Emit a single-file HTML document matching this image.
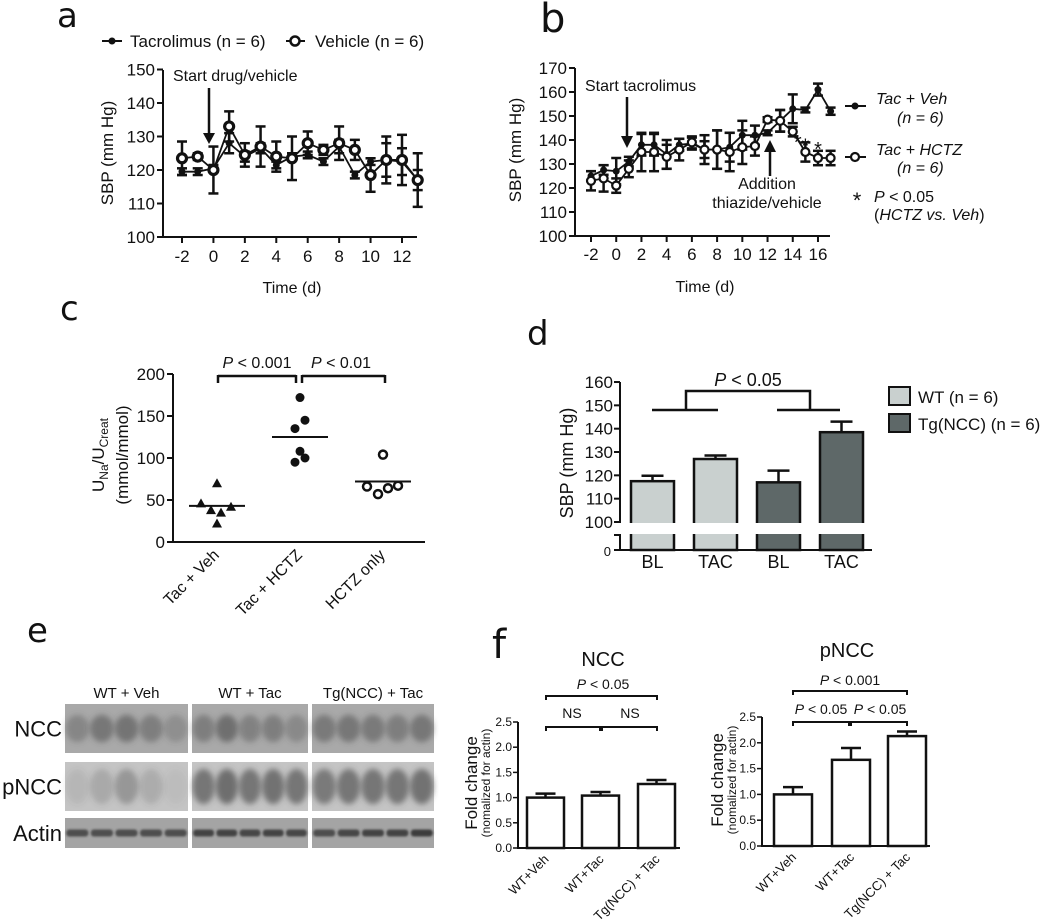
<!DOCTYPE html>
<html><head><meta charset="utf-8"><style>
html,body{margin:0;padding:0;background:#fff;}
svg{display:block;font-family:"Liberation Sans",Arial,sans-serif;}
</style></head><body>
<svg id="fig" width="1050" height="924" viewBox="0 0 1050 924" xmlns="http://www.w3.org/2000/svg">
<defs><filter id="blur" x="-20%" y="-40%" width="140%" height="180%"><feGaussianBlur stdDeviation="3"/></filter>
<filter id="blur2" x="-20%" y="-100%" width="140%" height="300%"><feGaussianBlur stdDeviation="1"/></filter></defs>
</svg>
<script>
// ---- Panel a data ----
const aDays = [-2,-1,0,1,2,3,4,5,6,7,8,9,10,11,12,13];
const aTac = [119.5,119.5,120.5,128,124,126.5,121.5,124,124.5,122.5,127,118.5,122.5,123,122.5,117];
const aTacErr = [1,1,1,3,1.5,1.5,1,1,1,1,2,1,1,5,4,3];
const aVeh = [123.5,124,120,133,124.5,127,124,123.5,128,126,128,126,118.5,123,123,117];
const aVehErr = [5,1,7,4.5,3.5,6,4.5,6.5,3.5,1.5,5,3,5,7,7.5,8];
const aYTicks = [100,110,120,130,140,150];
const aXTicks = [-2,0,2,4,6,8,10,12];
// ---- Panel b data ----
const bDays = [-2,-1,0,1,2,3,4,5,6,7,8,9,10,11,12,13,14,15,16,17];
const bVeh = [125,127.5,127,131,138,138,134,138,138.5,136,136,137,142,142,143,148,153,152.5,161,152];
const bVehErr = [2,2,5.5,2,4.5,4.5,6,2.5,2.5,3.5,8,6,6,4,1,4.5,6,1,2.5,1.5];
const bHctz = [123,124,121,128,135,135,133,136,139,136,136,135,137,137.5,148.5,148,143.5,135,132.5,132.5];
const bHctzErr = [4,5.5,3,3.5,8,8,5,4.5,2.5,6,8,8,7,4,1,4.5,2,4,3,3];
const bStarDays = [14.4,15,16];
const bStarVals = [140.5,139,137.5];
const bYTicks = [100,110,120,130,140,150,160,170];
const bXTicks = [-2,0,2,4,6,8,10,12,14,16];
// ---- Panel c data ----
const cGroups = ["Tac + Veh","Tac + HCTZ","HCTZ only"];
const cVeh = [70,46,38,35,42,22];
const cVehOff = [0,-16,-6,4,14,0];
const cHctz = [172,145,135,108,100,95];
const cHctzOff = [0,5,-5,0,5,-5];
const cOnly = [104,66,57,64,67];
const cOnlyOff = [0,-16,-5,5,15];
const cMeans = [43,125,72];
const cYTicks = [0,50,100,150,200];
// ---- Panel d data ----
const dLabels = ["BL","TAC","BL","TAC"];
const dVals = [117.5,127,117,138.5];
const dErr = [2.3,1.5,5,4.5];
const dYTicks = [100,110,120,130,140,150,160];
// ---- Panel f data ----
const fLabels = ["WT+Veh","WT+Tac","Tg(NCC) + Tac"];
const fNcc = [1.0,1.04,1.27];
const fNccErr = [0.08,0.07,0.08];
const fPncc = [1.0,1.67,2.13];
const fPnccErr = [0.14,0.23,0.09];
const fYTicks = [0,0.5,1,1.5,2,2.5];

const NS='http://www.w3.org/2000/svg';
const svg=document.getElementById('fig');
function el(tag,attrs,parent){const e=document.createElementNS(NS,tag);for(const k in attrs)e.setAttribute(k,attrs[k]);(parent||svg).appendChild(e);return e;}
function grp(name){const g=el('g',{});return g;}
function txt(g,x,y,s,size,anchor,extra){const t=el('text',Object.assign({x:x,y:y,'font-size':size,'text-anchor':anchor||'start',fill:'#111','font-family':'Liberation Sans, Arial, sans-serif'},extra||{}),g);t.textContent=s;return t;}
function line(g,x1,y1,x2,y2,w){return el('line',{x1:x1,y1:y1,x2:x2,y2:y2,stroke:'#111','stroke-width':w||2},g);}
function errbar(g,x,y1,y2,cap,w){line(g,x,y1,x,y2,w);line(g,x-cap,y1,x+cap,y1,w);line(g,x-cap,y2,x+cap,y2,w);}

// ================= Panel a =================
(function(){
const g=grp('panel-a');
const t=txt(g,57,27,'a',34,'start',{'font-family':'DejaVu Sans,sans-serif'});
const x=d=>182+(d+2)*15.714, y=v=>237-(v-100)*3.35;
line(g,163,70,163,238,2);line(g,162,237,417,237,2);
aYTicks.forEach(v=>{line(g,157,y(v),163,y(v),2);txt(g,155,y(v)+6,String(v),17,'end');});
aXTicks.forEach(d=>{line(g,x(d),237,x(d),243,2);txt(g,x(d),262,String(d),17,'middle');});
const xl=txt(g,292,293,'Time (d)',16,'middle');
const yl=txt(g,0,0,'SBP (mm Hg)',17,'middle',{transform:'translate(113,153) rotate(-90)'});
txt(g,173,81,'Start drug/vehicle',16);
line(g,209,88,209,135,2.5);el('polygon',{points:'203,133 215,133 209,144',fill:'#111'},g);
const lg=grp('legend-a');
line(lg,102,41,122,41,2);el('circle',{cx:112,cy:41,r:3.5,fill:'#111'},lg);txt(lg,130,47,'Tacrolimus (n = 6)',17);
line(lg,286,41,305,41,2);el('circle',{cx:295,cy:41,r:4.5,fill:'#fff',stroke:'#111','stroke-width':2.5},lg);txt(lg,315,47,'Vehicle (n = 6)',17);
[[aTac,aTacErr,'tacrolimus-series'],[aVeh,aVehErr,'vehicle-series']].forEach(([vals,errs,nm],si)=>{
 const sg=grp(nm);
 aDays.forEach((d,i)=>errbar(sg,x(d),y(vals[i]-errs[i]),y(vals[i]+errs[i]),5,2.5));
 el('polyline',{points:aDays.map((d,i)=>x(d)+','+y(vals[i])).join(' '),fill:'none',stroke:'#111','stroke-width':1.8},sg);
 aDays.forEach((d,i)=>{const c=si===0?el('circle',{cx:x(d),cy:y(vals[i]),r:3.5,fill:'#111'},sg):el('circle',{cx:x(d),cy:y(vals[i]),r:4.5,fill:'#fff',stroke:'#111','stroke-width':3.2},sg);});
});
})();

// ================= Panel b =================
(function(){
const g=grp('panel-b');
const t=txt(g,540,32,'b',40,'start',{'font-family':'DejaVu Sans,sans-serif'});
const x=d=>591+(d+2)*12.61, y=v=>236-(v-100)*2.4;
line(g,575,68,575,237,2);line(g,574,236,830,236,2);
bYTicks.forEach(v=>{line(g,569,y(v),575,y(v),2);txt(g,567,y(v)+6,String(v),17,'end');});
bXTicks.forEach(d=>{line(g,x(d),236,x(d),242,2);txt(g,x(d),260,String(d),17,'middle');});
const xl=txt(g,705,292,'Time (d)',16,'middle');
const yl=txt(g,0,0,'SBP (mm Hg)',17,'middle',{transform:'translate(521,150) rotate(-90)'});
txt(g,585,91,'Start tacrolimus',16);
line(g,627,97,627,138,2.5);el('polygon',{points:'621,136 633,136 627,148',fill:'#111'},g);
txt(g,767,189,'Addition',16,'middle');txt(g,767,208,'thiazide/vehicle',16,'middle');
line(g,770,150,770,176,2.5);el('polygon',{points:'764,152 776,152 770,140',fill:'#111'},g);
[[bVeh,bVehErr,'tac-veh-series'],[bHctz,bHctzErr,'tac-hctz-series']].forEach(([vals,errs,nm],si)=>{
 const sg=grp(nm);
 bDays.forEach((d,i)=>errbar(sg,x(d),y(vals[i]-errs[i]),y(vals[i]+errs[i]),5,2.5));
 el('polyline',{points:bDays.map((d,i)=>x(d)+','+y(vals[i])).join(' '),fill:'none',stroke:'#111','stroke-width':1.8},sg);
 bDays.forEach((d,i)=>{const c=si===0?el('circle',{cx:x(d),cy:y(vals[i]),r:3.5,fill:'#111'},sg):el('circle',{cx:x(d),cy:y(vals[i]),r:4,fill:'#fff',stroke:'#111','stroke-width':2.2},sg);});
});
bStarDays.forEach((d,i)=>{const s=txt(g,x(d),y(bStarVals[i])+10,'*',20,'middle');});
const lg=grp('legend-b');
line(lg,845,106,866,106,2);el('circle',{cx:855,cy:106,r:3.5,fill:'#111'},lg);
txt(lg,876,104,'Tac + Veh',16,'start',{'font-style':'italic'});txt(lg,897,123,'(n = 6)',16,'start',{'font-style':'italic'});
line(lg,845,157,866,157,2);el('circle',{cx:855,cy:157,r:4,fill:'#fff',stroke:'#111','stroke-width':2.2},lg);
txt(lg,876,155,'Tac + HCTZ',16,'start',{'font-style':'italic'});txt(lg,897,173,'(n = 6)',16,'start',{'font-style':'italic'});
txt(lg,857,208,'*',22,'middle');
const p=txt(lg,874,202,'',16);p.innerHTML='<tspan font-style="italic">P</tspan> &lt; 0.05';
const p2=txt(lg,874,220,'',16);p2.innerHTML='(<tspan font-style="italic">HCTZ vs. Veh</tspan>)';
})();

// ================= Panel c =================
(function(){
const g=grp('panel-c');
const t=txt(g,60,320,'c',34,'start',{'font-family':'DejaVu Sans,sans-serif'});
const cx=[217,300,383], y=v=>542-v*0.84;
line(g,173,374,173,543,2);line(g,172,542,425,542,2);
cYTicks.forEach(v=>{line(g,167,y(v),173,y(v),2);txt(g,165,y(v)+6,String(v),17,'end');});
cGroups.forEach((s,i)=>{const l=txt(g,0,0,s,16,'end',{transform:'translate('+(cx[i]+3)+',556) rotate(-45)'});});
const yl=el('text',{transform:'translate(104,455) rotate(-90)','font-size':17,'text-anchor':'middle',fill:'#111','font-family':'Liberation Sans, Arial, sans-serif'},g);
yl.innerHTML='U<tspan font-size="12" dy="4">Na</tspan><tspan dy="-4">/U</tspan><tspan font-size="12" dy="4">Creat</tspan>';

txt(g,0,0,'(mmol/mmol)',17,'middle',{transform:'translate(128,455) rotate(-90)'});
cVeh.forEach((v,i)=>{const px=cx[0]+cVehOff[i],py=y(v);const m=el('polygon',{points:(px-5)+','+(py+4)+' '+(px+5)+','+(py+4)+' '+px+','+(py-5),fill:'#111'},g);});
cHctz.forEach((v,i)=>{const m=el('circle',{cx:cx[1]+cHctzOff[i],cy:y(v),r:4.5,fill:'#111'},g);});
cOnly.forEach((v,i)=>{const m=el('circle',{cx:cx[2]+cOnlyOff[i],cy:y(v),r:4,fill:'#fff',stroke:'#111','stroke-width':2.5},g);});
cMeans.forEach((v,i)=>{const m=line(g,cx[i]-28,y(v),cx[i]+28,y(v),2);});
line(g,218,376,296,376,2.5);line(g,218,375,218,383,2.5);line(g,296,375,296,383,2.5);
line(g,302,376,385,376,2.5);line(g,302,375,302,383,2.5);line(g,385,375,385,383,2.5);
const a1=txt(g,257,368,'',16,'middle');a1.innerHTML='<tspan font-style="italic">P</tspan> &lt; 0.001';
const a2=txt(g,341,368,'',16,'middle');a2.innerHTML='<tspan font-style="italic">P</tspan> &lt; 0.01';
})();

// ================= Panel d =================
(function(){
const g=grp('panel-d');
const t=txt(g,527,345,'d',34,'start',{'font-family':'DejaVu Sans,sans-serif'});
const bx=[631,694,757,820], bw=43, cols=['#c9d0cf','#c9d0cf','#5e6868','#5e6868'];
const y=v=>522-(v-100)*2.333;
dVals.forEach((v,i)=>{
 errbar(g,bx[i]+bw/2,y(v+dErr[i]),y(v),0,2.5);line(g,bx[i]+bw/2-11,y(v+dErr[i]),bx[i]+bw/2+11,y(v+dErr[i]),2.5);
 const r=el('rect',{x:bx[i],y:y(v),width:bw,height:550-y(v),fill:cols[i],stroke:'#111','stroke-width':2.5},g);
 
 txt(g,bx[i]+bw/2,568,dLabels[i],18,'middle');
});
el('rect',{x:615,y:523,width:260,height:11,fill:'#fff'},g);
line(g,620,382,620,523,2);line(g,620,534,620,551,2);line(g,619,550,872,550,2);
dYTicks.forEach(v=>{line(g,614,y(v),620,y(v),2);txt(g,613,y(v)+6,String(v),17,'end');});
line(g,614,535,620,535,2);line(g,614,550,620,550,2);txt(g,611,556,'0',13,'end');
const yl=txt(g,0,0,'SBP (mm Hg)',18,'middle',{transform:'translate(573,463) rotate(-90)'});
line(g,652,410,718,410,2.5);line(g,777,410,840,410,2.5);
el('polyline',{points:'686,410 686,391 810,391 810,410',fill:'none',stroke:'#111','stroke-width':2.5},g);
const p=txt(g,748,386,'',18,'middle');p.innerHTML='<tspan font-style="italic">P</tspan> &lt; 0.05';
const lg=grp('legend-d');
el('rect',{x:889,y:387,width:21,height:18,fill:'#c9d0cf',stroke:'#111','stroke-width':2},lg);
el('rect',{x:889,y:414,width:21,height:18,fill:'#5e6868',stroke:'#111','stroke-width':2},lg);
txt(lg,918,403,'WT (n = 6)',17);txt(lg,918,430,'Tg(NCC) (n = 6)',17);
})();

// ================= Panel e =================
(function(){
const g=grp('panel-e');
const t=txt(g,27,642,'e',34,'start',{'font-family':'DejaVu Sans,sans-serif'});
const cols=[[65,188],[192,308],[312,434]], rows=[[704,753,'NCC'],[762,811,'pNCC'],[818,848,'Actin']];
const bgs=['#a9a9a9','#c4c4c4','#a4a4a4'];
const heads=['WT + Veh','WT + Tac','Tg(NCC) + Tac'];
const dens=[[[.5,.7,.75,.6,.35],[.6,.8,.55,.6,.45],[.65,.7,.65,.6,.7]],[[.15,.3,.5,.25,.1],[.85,.95,.85,.9,.85],[.8,.85,.85,.85,.9]],[[.7,.7,.7,.7,.7],[.8,.8,.75,.8,.75],[.7,.75,.8,.8,.85]]];
cols.forEach((c,ci)=>{txt(g,(c[0]+c[1])/2,698,heads[ci],15,'middle');});
rows.forEach((r,ri)=>{
 txt(g,62,r[0]+(r[1]-r[0])/2+8,r[2],22,'end');
 cols.forEach((c,ci)=>{
  const b=el('rect',{x:c[0],y:r[0],width:c[1]-c[0],height:r[1]-r[0],fill:bgs[ri]},g);
  
  const lw=(c[1]-c[0])/5;
  for(let k=0;k<5;k++){const d=dens[ri][ci][k];const cxp=c[0]+lw*(k+.5),cyp=(r[0]+r[1])/2;
   if(ri<2)el('ellipse',{cx:cxp,cy:cyp,rx:lw*0.48,ry:(r[1]-r[0])*(ri==1?0.36:0.28),fill:'#4a4a4a','fill-opacity':d*0.75,filter:'url(#blur)'},g);
   else el('rect',{x:cxp-lw*0.45,y:cyp-3.5,width:lw*0.9,height:7,rx:3,fill:'#2a2a2a','fill-opacity':d,filter:'url(#blur2)'},g);}
 });
});
})();

// ================= Panel f =================
function barPanel(name,ax,y0,y25,axEnd,bxs,bw,vals,errs){
 const g=grp(name);
 const y=v=>y0-(v/2.5)*(y0-y25);
 vals.forEach((v,i)=>{
  const cx=bxs[i]+bw/2;line(g,cx,y(v+errs[i]),cx,y(v),2.5);line(g,cx-10,y(v+errs[i]),cx+10,y(v+errs[i]),2.5);
  const r=el('rect',{x:bxs[i],y:y(v),width:bw,height:y0-y(v),fill:'#fff',stroke:'#111','stroke-width':2.5},g);
  
  const l=txt(g,0,0,fLabels[i],13,'end',{transform:'translate('+(cx+4)+','+(y0+12)+') rotate(-45)'});
 });
 line(g,ax,y25,ax,y0+1,2);line(g,ax-1,y0,axEnd,y0,2);
 fYTicks.forEach(v=>{line(g,ax-5,y(v),ax,y(v),1.5);txt(g,ax-6,y(v)+4,v.toFixed(1),12,'end');});
 return g;
}
(function(){
const t=txt(svg,492,658,'f',40,'start',{'font-family':'DejaVu Sans,sans-serif'});
const g1=barPanel('ncc-chart',518,848,722,680,[527,582,638],37,fNcc,fNccErr);
txt(g1,603,666,'NCC',20,'middle');
const yl=txt(g1,0,0,'Fold change',17,'middle',{transform:'translate(477,783) rotate(-90)'});
txt(g1,0,0,'(nomalized for actin)',12,'middle',{transform:'translate(490,783) rotate(-90)'});
el('polyline',{points:'546,700 546,696 657,696 657,700',fill:'none',stroke:'#111','stroke-width':2},g1);
el('polyline',{points:'546,731 546,727 600,727 600,731',fill:'none',stroke:'#111','stroke-width':2},g1);
el('polyline',{points:'602,731 602,727 657,727 657,731',fill:'none',stroke:'#111','stroke-width':2},g1);
const a=txt(g1,603,689,'',14,'middle');a.innerHTML='<tspan font-style="italic">P</tspan> &lt; 0.05';
txt(g1,572,718,'NS',14,'middle');txt(g1,630,718,'NS',14,'middle');
const g2=barPanel('pncc-chart',762,846,717,930,[774,832,888],38,fPncc,fPnccErr);
txt(g2,847,657,'pNCC',20,'middle');
const yl2=txt(g2,0,0,'Fold change',17,'middle',{transform:'translate(723,780) rotate(-90)'});
txt(g2,0,0,'(nomalized for actin)',12,'middle',{transform:'translate(736,780) rotate(-90)'});
el('polyline',{points:'793,695 793,691 907,691 907,695',fill:'none',stroke:'#111','stroke-width':2},g2);
el('polyline',{points:'793,726 793,722 849,722 849,726',fill:'none',stroke:'#111','stroke-width':2},g2);
el('polyline',{points:'851,726 851,722 907,722 907,726',fill:'none',stroke:'#111','stroke-width':2},g2);
const b1=txt(g2,850,685,'',14,'middle');b1.innerHTML='<tspan font-style="italic">P</tspan> &lt; 0.001';
const b2=txt(g2,821,714,'',14,'middle');b2.innerHTML='<tspan font-style="italic">P</tspan> &lt; 0.05';
const b3=txt(g2,880,714,'',14,'middle');b3.innerHTML='<tspan font-style="italic">P</tspan> &lt; 0.05';
})();
</script>
</body></html>
